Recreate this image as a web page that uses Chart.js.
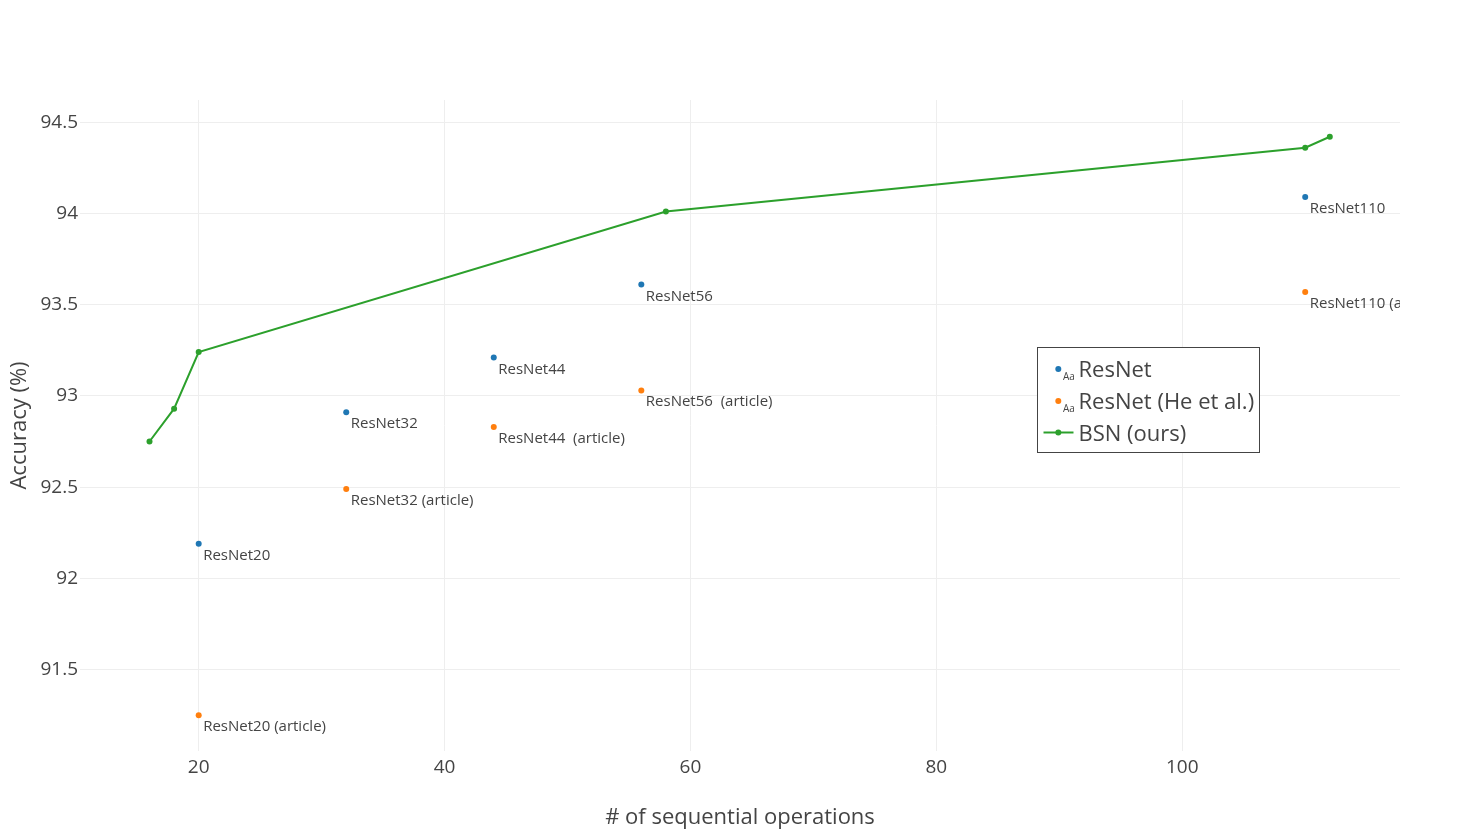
<!DOCTYPE html>
<html>
<head>
<meta charset="utf-8">
<script src="https://cdn.jsdelivr.net/npm/chart.js@4/dist/chart.umd.min.js"></script>
<style>
html,body{margin:0;padding:0;background:#fff;}
#wrap{width:1480px;height:831px;}
</style>
</head>
<body>
<div id="wrap"><canvas id="c" width="1480" height="831"></canvas></div>
<script>
// ---- data ----
const resnetOps = [20, 32, 44, 56, 110];
const resnetAcc = [92.19, 92.91, 93.21, 93.61, 94.09];
const resnetLabels = ["ResNet20", "ResNet32", "ResNet44", "ResNet56", "ResNet110"];

const heOps = [20, 32, 44, 56, 110];
const heAcc = [91.25, 92.49, 92.83, 93.03, 93.57];
const heLabels = ["ResNet20 (article)", "ResNet32 (article)", "ResNet44  (article)", "ResNet56  (article)", "ResNet110 (article)"];

const bsnOps = [16, 18, 20, 58, 110, 112];
const bsnAcc = [92.75, 92.93, 93.24, 94.01, 94.36, 94.42];

const xTicks = [20, 40, 60, 80, 100];
const yTicks = [91.5, 92, 92.5, 93, 93.5, 94, 94.5];
const yTickLabels = ["91.5", "92", "92.5", "93", "93.5", "94", "94.5"];

const seriesNames = ["ResNet", "ResNet (He et al.)", "BSN (ours)"];
const colors = ["#1f77b4", "#ff7f0e", "#2ca02c"];

const FONT = "'Open Sans', sans-serif";
const TXT = "#444444";

function pts(xs, ys) { return xs.map((x, i) => ({x: x, y: ys[i]})); }

// text labels next to markers
const pointLabelPlugin = {
  id: 'pointLabels',
  afterDatasetsDraw(chart) {
    const ctx = chart.ctx;
    const a = chart.chartArea;
    ctx.save();
    ctx.beginPath();
    ctx.rect(a.left, a.top, a.right - a.left, a.bottom - a.top);
    ctx.clip();
    ctx.font = "15px " + FONT;
    ctx.fillStyle = TXT;
    ctx.textAlign = 'left';
    ctx.textBaseline = 'alphabetic';
    chart.data.datasets.forEach((ds, di) => {
      if (!ds.pointTexts) return;
      const meta = chart.getDatasetMeta(di);
      meta.data.forEach((el, i) => {
        ctx.fillText(ds.pointTexts[i], el.x + 4.5, el.y + 16);
      });
    });
    ctx.restore();
  }
};

// legend box inside plot
const legendPlugin = {
  id: 'boxLegend',
  afterDraw(chart) {
    const ctx = chart.ctx;
    const L = 1037.5, T = 347.5, W = 222, H = 105;
    ctx.save();
    ctx.fillStyle = '#ffffff';
    ctx.fillRect(L, T, W, H);
    ctx.strokeStyle = TXT;
    ctx.lineWidth = 1;
    ctx.strokeRect(L, T, W, H);
    const rows = [369, 401, 433];
    const mx = 1058.3;
    for (let i = 0; i < 3; i++) {
      const y = rows[i];
      if (i === 2) {
        ctx.strokeStyle = colors[2];
        ctx.lineWidth = 2;
        ctx.beginPath();
        ctx.moveTo(1043.5, y - 0.5);
        ctx.lineTo(1073.5, y - 0.5);
        ctx.stroke();
        ctx.fillStyle = colors[2];
        ctx.beginPath();
        ctx.arc(mx, y - 0.5, 3, 0, Math.PI * 2);
        ctx.fill();
      } else {
        ctx.fillStyle = colors[i];
        ctx.beginPath();
        ctx.arc(mx, y, 3, 0, Math.PI * 2);
        ctx.fill();
        ctx.fillStyle = TXT;
        ctx.font = "10px " + FONT;
        ctx.textAlign = 'left';
        ctx.textBaseline = 'alphabetic';
        ctx.fillText("Aa", 1063, y + 11);
      }
      ctx.fillStyle = TXT;
      ctx.font = "22px " + FONT;
      ctx.textAlign = 'left';
      ctx.textBaseline = 'alphabetic';
      ctx.fillText(seriesNames[i], 1078.5, y + 8);
    }
    ctx.restore();
  }
};

Chart.defaults.font.family = FONT;
Chart.defaults.color = TXT;

new Chart(document.getElementById('c'), {
  type: 'scatter',
  data: {
    datasets: [
      {
        label: seriesNames[0],
        data: pts(resnetOps, resnetAcc),
        pointTexts: resnetLabels,
        backgroundColor: colors[0],
        borderColor: colors[0],
        pointRadius: 3,
        pointBorderWidth: 0,
        showLine: false
      },
      {
        label: seriesNames[1],
        data: pts(heOps, heAcc),
        pointTexts: heLabels,
        backgroundColor: colors[1],
        borderColor: colors[1],
        pointRadius: 3,
        pointBorderWidth: 0,
        showLine: false
      },
      {
        label: seriesNames[2],
        data: pts(bsnOps, bsnAcc),
        backgroundColor: colors[2],
        borderColor: colors[2],
        borderWidth: 2,
        pointRadius: 3,
        pointBorderWidth: 0,
        showLine: true,
        tension: 0
      }
    ]
  },
  options: {
    responsive: false,
    animation: false,
    devicePixelRatio: 1,
    layout: { padding: { top: 100, right: 80, left: 0, bottom: 0 } },
    plugins: {
      legend: { display: false },
      tooltip: { enabled: false }
    },
    scales: {
      x: {
        type: 'linear',
        position: 'bottom',
        min: 10.346,
        max: 117.71,
        afterBuildTicks: s => { s.ticks = xTicks.map(v => ({value: v})); },
        afterFit: s => { s.height = 80; },
        ticks: {
          font: { size: 19 },
          color: TXT,
          padding: 5,
          maxRotation: 0,
          autoSkip: false
        },
        grid: { color: '#eeeeee', lineWidth: 1, drawTicks: false },
        border: { display: false },
        title: {
          display: true,
          text: '# of sequential operations',
          font: { size: 22, lineHeight: 1.1 },
          color: TXT,
          padding: { top: 0, bottom: 1 }
        }
      },
      y: {
        type: 'linear',
        position: 'left',
        min: 91.054,
        max: 94.6216,
        afterBuildTicks: s => { s.ticks = yTicks.map(v => ({value: v})); },
        afterFit: s => { s.width = 80; },
        ticks: {
          font: { size: 19 },
          color: TXT,
          padding: 2,
          autoSkip: false,
          callback: (v) => { const i = yTicks.indexOf(v); return i >= 0 ? yTickLabels[i] : ''; }
        },
        grid: { color: '#eeeeee', lineWidth: 1, drawTicks: false },
        border: { display: false },
        title: {
          display: true,
          text: 'Accuracy (%)',
          font: { size: 22 },
          color: TXT,
          padding: { top: 7, bottom: 0 }
        }
      }
    }
  },
  plugins: [pointLabelPlugin, legendPlugin]
});
</script>
</body>
</html>
